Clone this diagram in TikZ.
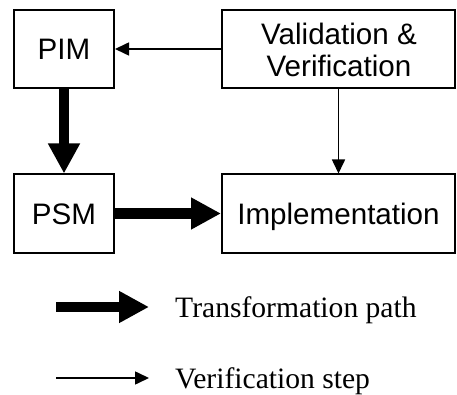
\documentclass[tikz,border=0pt]{standalone}
\usepackage{fontspec}
\setmainfont{Liberation Serif}
\setsansfont{Liberation Sans}
\usetikzlibrary{arrows.meta}

\tikzset{
  modelbox/.style={draw, line width=2pt, inner sep=0pt, fill=white,
    font=\sffamily\fontsize{29.6pt}{32pt}\selectfont,
    text height=21.2pt, text depth=0pt},
  transform/.style={line width=10.5pt, -{Triangle[width=30pt,length=30pt]}},
  verify/.style={line width=1.6pt, -{Triangle[width=13pt,length=14pt]}},
  legendtext/.style={anchor=base west, inner sep=0pt,
    font=\rmfamily\fontsize{29.6pt}{32pt}\selectfont}
}

\begin{document}
\begin{tikzpicture}[x=1pt, y=-1pt]
  \useasboundingbox (0,0) rectangle (457,395);

  % model boxes
  \node[modelbox, minimum width=100pt, minimum height=78pt] (pim) at (64,49) {PIM};
  \node[modelbox, minimum width=100pt, minimum height=78pt] (psm) at (64,213.5) {PSM};
  \node[modelbox, minimum width=233pt, minimum height=78pt] (vv) at (338.5,49) {};
  \node[modelbox, minimum width=233pt, minimum height=78pt] (impl) at (338.5,213.5) {Implementation};
  % two-line label; the base anchor sits on the last line's baseline
  \node[align=center, inner sep=0pt, font=\sffamily\fontsize{29.6pt}{32pt}\selectfont,
        anchor=base] (vvtext) at (339,77) {Validation \&\\Verification};

  % transformation path
  \draw[transform] (pim.south) -- (psm.north);
  \draw[transform] (psm.east) -- (impl.west);

  % verification steps
  \draw[verify] (vv.west) -- (pim.east);
  \draw[verify] (vv.south) -- (impl.north);

  % legend
  \coordinate (l1a) at (56,307);
  \coordinate (l1b) at (149,307);
  \coordinate (l2a) at (56,378);
  \coordinate (l2b) at (149,378);
  \draw[transform] (l1a) -- (l1b);
  \draw[verify] (l2a) -- (l2b);
  \node[legendtext] (lt1) at (175,317) {Transformation path};
  \node[legendtext] (lt2) at (175,388) {Verification step};
\end{tikzpicture}
\end{document}
